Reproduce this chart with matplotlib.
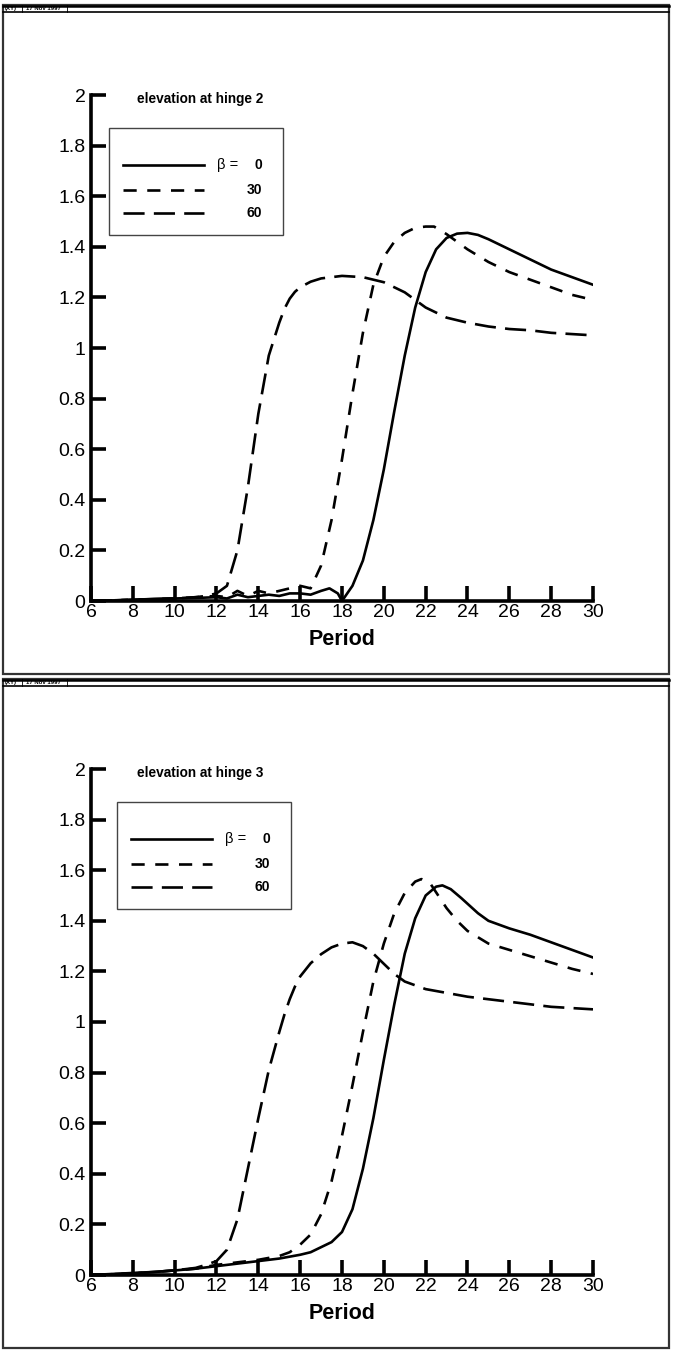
import matplotlib
matplotlib.use("Agg")
import matplotlib.pyplot as plt
from matplotlib.patches import Rectangle
from matplotlib.lines import Line2D

plt.rcParams['font.family'] = ['Liberation Sans', 'DejaVu Sans']

# ---------------- data ----------------
# hinge 2 (top panel)
h2_p0 = [6, 7, 8, 9, 10, 11, 12, 12.5, 13, 13.5, 14, 14.5, 15, 15.5, 16, 16.5, 17, 17.4, 17.8, 18, 18.5, 19, 19.5, 20, 20.5, 21, 21.5, 22, 22.5, 23, 23.5, 24, 24.5, 25, 26, 27, 28, 29, 30]
h2_v0 = [0, 0.002, 0.005, 0.008, 0.01, 0.012, 0.015, 0.01, 0.025, 0.015, 0.02, 0.025, 0.02, 0.03, 0.03, 0.025, 0.04, 0.05, 0.03, 0.0, 0.06, 0.16, 0.32, 0.52, 0.75, 0.97, 1.16, 1.3, 1.39, 1.435, 1.452, 1.455, 1.447, 1.43, 1.39, 1.35, 1.31, 1.28, 1.25]
h2_p30 = [6, 8, 10, 11, 12, 12.5, 13, 13.5, 14, 14.5, 15, 15.5, 16, 16.5, 17, 17.5, 18, 18.5, 19, 19.5, 20, 20.5, 21, 21.5, 22, 22.4, 23, 23.5, 24, 25, 26, 27, 28, 29, 30]
h2_v30 = [0, 0.005, 0.01, 0.015, 0.02, 0.015, 0.04, 0.02, 0.04, 0.03, 0.04, 0.05, 0.06, 0.05, 0.14, 0.32, 0.56, 0.82, 1.06, 1.25, 1.36, 1.42, 1.455, 1.475, 1.48, 1.48, 1.45, 1.42, 1.39, 1.34, 1.30, 1.27, 1.24, 1.21, 1.19]
h2_p60 = [6, 8, 10, 11, 11.5, 12, 12.5, 13, 13.5, 14, 14.5, 15, 15.25, 15.5, 15.75, 16, 16.5, 17, 18, 19, 20, 21, 22, 23, 24, 25, 26, 27, 28, 29, 30]
h2_v60 = [0, 0.005, 0.01, 0.015, 0.02, 0.03, 0.06, 0.2, 0.45, 0.74, 0.97, 1.1, 1.155, 1.195, 1.222, 1.24, 1.262, 1.275, 1.285, 1.28, 1.26, 1.22, 1.16, 1.12, 1.10, 1.085, 1.075, 1.07, 1.06, 1.055, 1.05]

# hinge 3 (bottom panel)
h3_p0 = [6, 7, 8, 9, 10, 11, 12, 13, 14, 15, 16, 16.5, 17, 17.5, 18, 18.5, 19, 19.5, 20, 20.5, 21, 21.5, 22, 22.5, 22.8, 23.2, 23.7, 24.5, 25, 26, 27, 28, 29, 30]
h3_v0 = [0, 0.004, 0.008, 0.012, 0.018, 0.025, 0.035, 0.045, 0.055, 0.065, 0.08, 0.09, 0.11, 0.13, 0.17, 0.26, 0.42, 0.62, 0.85, 1.07, 1.27, 1.41, 1.50, 1.535, 1.54, 1.525, 1.49, 1.43, 1.40, 1.37, 1.345, 1.315, 1.285, 1.255]
h3_p30 = [6, 8, 10, 11, 12, 13, 14, 15, 15.5, 16, 16.5, 17, 17.5, 18, 18.5, 19, 19.5, 20, 20.5, 21, 21.5, 21.8, 22.2, 22.6, 23, 23.5, 24, 25, 26, 27, 28, 29, 30]
h3_v30 = [0, 0.006, 0.018, 0.025, 0.04, 0.05, 0.06, 0.075, 0.09, 0.12, 0.16, 0.24, 0.37, 0.55, 0.75, 0.96, 1.16, 1.31, 1.43, 1.51, 1.555, 1.565, 1.55, 1.50, 1.45, 1.40, 1.36, 1.31, 1.285, 1.26, 1.235, 1.21, 1.19]
h3_p60 = [6, 8, 10, 11, 11.5, 12, 12.5, 13, 13.5, 14, 14.5, 15, 15.25, 15.5, 15.75, 16, 16.5, 17, 17.5, 18, 18.5, 19, 19.5, 20, 20.5, 21, 22, 23, 24, 25, 26, 27, 28, 29, 30]
h3_v60 = [0, 0.006, 0.018, 0.028, 0.04, 0.055, 0.1, 0.22, 0.42, 0.62, 0.81, 0.96, 1.03, 1.09, 1.14, 1.18, 1.232, 1.268, 1.295, 1.31, 1.315, 1.30, 1.27, 1.23, 1.19, 1.16, 1.13, 1.115, 1.10, 1.09, 1.08, 1.07, 1.06, 1.055, 1.05]

x_ticks = [6, 8, 10, 12, 14, 16, 18, 20, 22, 24, 26, 28, 30]
y_ticks = [0, 0.2, 0.4, 0.6, 0.8, 1, 1.2, 1.4, 1.6, 1.8, 2]
y_ticklabels = ['0', '0.2', '0.4', '0.6', '0.8', '1', '1.2', '1.4', '1.6', '1.8', '2']
legend_labels = ['0', '30', '60']
titles = ['elevation at hinge 2', 'elevation at hinge 3']
header_left = '(XY)'
header_date = '17 Nov 1997'
xlabel = 'Period'

# ---------------- layout ----------------
W, H = 673, 1352
fig = plt.figure(figsize=(W / 100, H / 100), dpi=100)

def fx(px):
    return px / W

def fy(py):
    return 1 - py / H

styles = [dict(linestyle='-'), dict(linestyle=(0, (5, 4))), dict(linestyle=(0, (8, 3.5)))]

panels = [
    dict(top=5, data=[(h2_p0, h2_v0), (h2_p30, h2_v30), (h2_p60, h2_v60)], title=titles[0], legx=0.036),
    dict(top=679, data=[(h3_p0, h3_v0), (h3_p30, h3_v30), (h3_p60, h3_v60)], title=titles[1], legx=0.052),
]

for pan in panels:
    t = pan['top']
    # outer frame
    fig.patches.append(Rectangle((fx(3), fy(t + 669)), fx(666), 669 / H, transform=fig.transFigure,
                                 fill=False, lw=1.6, ec='#333333'))
    # header strip
    fig.lines.append(Line2D([fx(3), fx(669)], [fy(t + 7), fy(t + 7)], transform=fig.transFigure, lw=1.2, color='black'))
    fig.lines.append(Line2D([fx(3), fx(669)], [fy(t + 0.5), fy(t + 0.5)], transform=fig.transFigure, lw=1.8, color='black'))
    fig.lines.append(Line2D([fx(22), fx(22)], [fy(t + 7), fy(t)], transform=fig.transFigure, lw=0.6, color='black'))
    fig.lines.append(Line2D([fx(67), fx(67)], [fy(t + 7), fy(t)], transform=fig.transFigure, lw=0.6, color='black'))
    fig.text(fx(5), fy(t + 3.8), header_left, fontsize=4.3, fontweight='bold', va='center', ha='left')
    fig.text(fx(26), fy(t + 3.8), header_date, fontsize=4.3, fontweight='bold', va='center', ha='left')

    y0 = t + 596   # pixel of value 0
    y2 = t + 90    # pixel of value 2
    ax = fig.add_axes([fx(91), fy(y0), fx(593) - fx(91), (y0 - y2) / H])
    ax.set_xlim(6, 30)
    ax.set_ylim(0, 2)
    for sp in ['top', 'right']:
        ax.spines[sp].set_visible(False)
    for sp in ['left', 'bottom']:
        ax.spines[sp].set_linewidth(2.6)
    ax.set_xticks(x_ticks)
    ax.set_yticks(y_ticks)
    ax.set_yticklabels(y_ticklabels)
    ax.tick_params(direction='in', length=11, width=2.6, labelsize=14, pad=4)
    ax.tick_params(axis='x', pad=2)

    for (p, v), st in zip(pan['data'], styles):
        ax.plot(p, v, color='black', lw=1.9, **st)

    ax.set_xlabel(xlabel, fontsize=15.5, fontweight='bold')
    ax.xaxis.set_label_coords(0.5, -0.055)
    ax.text(0.092, 0.993, pan['title'], transform=ax.transAxes, fontsize=9.8, fontweight='bold', va='center', ha='left')

    # legend
    lx = pan['legx']
    ax.add_patch(Rectangle((lx, 0.723), 0.347, 0.211, transform=ax.transAxes, fill=False, ec='#444444', lw=1.0))
    rows = [0.862, 0.813, 0.767]
    for r, st, lab in zip(rows, styles, legend_labels):
        ax.add_line(Line2D([lx + 0.028, lx + 0.19], [r, r], transform=ax.transAxes, color='black', lw=1.9, **st))
        ax.text(lx + 0.305, r, lab, transform=ax.transAxes, fontsize=10, fontweight='bold', ha='right', va='center')
    ax.text(lx + 0.215, rows[0], 'β =', transform=ax.transAxes, fontsize=10.5, ha='left', va='center')

fig.savefig('out.png', dpi=100)
